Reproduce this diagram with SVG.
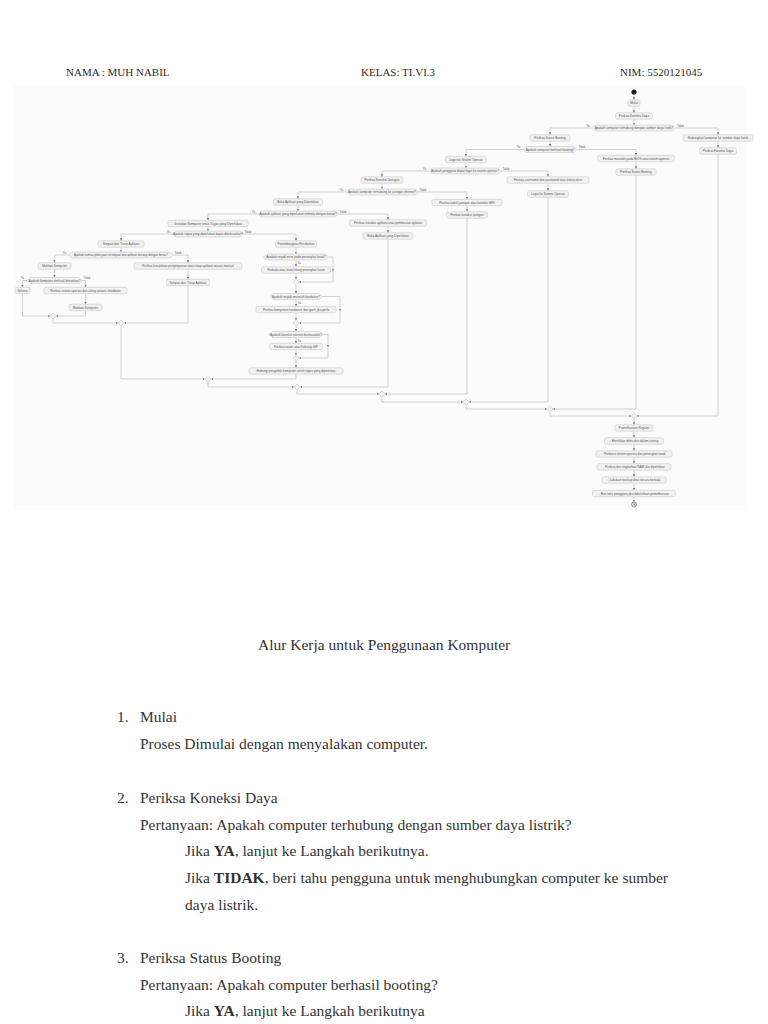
<svg xmlns="http://www.w3.org/2000/svg" width="768" height="1024" viewBox="0 0 768 1024">
<style>
.pg{font-family:"Liberation Serif","Times New Roman",serif;fill:#2b2b2b}
.hd{font-size:11px}
.bd{font-size:15.5px;fill:#333}
.b{fill:#f1f1f1;stroke:#b3b3b3;stroke-width:0.4}
.t{font-family:"Liberation Sans",Arial,sans-serif;font-size:3.1px;fill:#555;text-anchor:middle}
.l{font-family:"Liberation Sans",Arial,sans-serif;font-size:2.9px;fill:#555}
.c{fill:none;stroke:#9e9e9e;stroke-width:0.45;marker-end:url(#a)}
</style>
<defs>
<marker id="a" viewBox="0 0 6 6" refX="6" refY="3" markerWidth="2.4" markerHeight="2.4" orient="auto" markerUnits="userSpaceOnUse"><path d="M0,0 L6,3 L0,6 z" fill="#7a7a7a"/></marker>
</defs>
<rect width="768" height="1024" fill="#ffffff"/>
<g id="header" class="pg hd">
<text x="66" y="76">NAMA : MUH NABIL</text>
<text x="361" y="76">KELAS: TI.VI.3</text>
<text x="620" y="76">NIM: 5520121045</text>
</g>
<rect x="14" y="85" width="731" height="425" fill="#fbfbfb"/>
<g id="connectors">
<path class="c" d="M634,94.6 V99.75"/>
<path class="c" d="M634,106.25 V112.75"/>
<path class="c" d="M634,119.25 V125"/>
<path class="c" d="M592.5,128 H550 V134.75"/>
<path class="c" d="M675.5,128 H718 V134.75"/>
<path class="c" d="M550,141.25 V146.5"/>
<path class="c" d="M718,141.25 V147.75"/>
<path class="c" d="M523,149.5 H466 V156.25"/>
<path class="c" d="M577,149.5 H636 V155.25"/>
<path class="c" d="M636,161.75 V168.75"/>
<path class="c" d="M466,162.75 V168"/>
<path class="c" d="M429,171 H382 V176.75"/>
<path class="c" d="M501,171 H548 V176.75"/>
<path class="c" d="M548,183.25 V190.75"/>
<path class="c" d="M382,183.25 V189"/>
<path class="c" d="M346,192 H298 V198.75"/>
<path class="c" d="M418,192 H467 V199.25"/>
<path class="c" d="M467,205.75 V211.75"/>
<path class="c" d="M298,205.25 V211"/>
<path class="c" d="M258,214 H208 V220.25"/>
<path class="c" d="M338,214 H388 V219.75"/>
<path class="c" d="M388,226.25 V232.75"/>
<path class="c" d="M208,226.75 V231"/>
<path class="c" d="M173,234 H121 V240.75"/>
<path class="c" d="M243,234 H296 V240.75"/>
<path class="c" d="M121,247.25 V252"/>
<path class="c" d="M69,255 H54.5 V262.75"/>
<path class="c" d="M173,255 H188 V262.75"/>
<path class="c" d="M188,269.25 V279.25"/>
<path class="c" d="M54.5,269.25 V277.5"/>
<path class="c" d="M27,280.5 H22.5 V287.25"/>
<path class="c" d="M82,280.5 H85.5 V287.25"/>
<path class="c" d="M85.5,293.75 V304.25"/>
<path class="c" d="M22.5,293.75 V316 H50"/>
<path class="c" d="M85.5,310.75 V316 H56"/>
<path class="c" d="M53,319 V323 H118"/>
<path class="c" d="M188,285.75 V323 H124"/>
<path class="c" d="M296,247.25 V254"/>
<path class="c" d="M296,260 V266.75"/>
<path class="c" d="M328.5,257 H333 V271"/>
<path class="c" d="M333,270 V282 H299"/>
<path class="c" d="M296,273.25 V279"/>
<path class="c" d="M296,285 V293.5"/>
<path class="c" d="M296,299.5 V306.25"/>
<path class="c" d="M322,296.5 H340 V311"/>
<path class="c" d="M340,310 V323 H299"/>
<path class="c" d="M296,312.75 V320"/>
<path class="c" d="M296,326 V331.5"/>
<path class="c" d="M296,337.5 V343.25"/>
<path class="c" d="M323,334.5 H328 V347"/>
<path class="c" d="M328,346 V358 H299"/>
<path class="c" d="M296,349.75 V355"/>
<path class="c" d="M296,361 V367.75"/>
<path class="c" d="M121,326 V379 H205"/>
<path class="c" d="M296,374.25 V379 H211"/>
<path class="c" d="M208,382 V387 H294"/>
<path class="c" d="M388,239.25 V387 H300"/>
<path class="c" d="M297,390 V394 H379"/>
<path class="c" d="M467,218.25 V394 H385"/>
<path class="c" d="M382,397 V402 H463"/>
<path class="c" d="M548,197.25 V402 H469"/>
<path class="c" d="M466,405 V409 H547"/>
<path class="c" d="M636,175.25 V409 H553"/>
<path class="c" d="M550,412 V416 H631"/>
<path class="c" d="M718,154.25 V416 H637"/>
<path class="c" d="M634,419 V424.75"/>
<path class="c" d="M634,431.25 V437.75"/>
<path class="c" d="M634,444.25 V450.75"/>
<path class="c" d="M634,457.25 V463.75"/>
<path class="c" d="M634,470.25 V476.75"/>
<path class="c" d="M634,483.25 V490.25"/>
<path class="c" d="M634,496.75 V502"/>
</g>
<g id="labels">
<text class="l" x="589.5" y="126.8" text-anchor="end">Ya</text>
<text class="l" x="677" y="126.8">Tidak</text>
<text class="l" x="520" y="148.3" text-anchor="end">Ya</text>
<text class="l" x="578.5" y="148.3">Tidak</text>
<text class="l" x="426" y="169.8" text-anchor="end">Ya</text>
<text class="l" x="502.5" y="169.8">Tidak</text>
<text class="l" x="343" y="190.8" text-anchor="end">Ya</text>
<text class="l" x="419.5" y="190.8">Tidak</text>
<text class="l" x="255" y="212.8" text-anchor="end">Ya</text>
<text class="l" x="339.5" y="212.8">Tidak</text>
<text class="l" x="170" y="232.8" text-anchor="end">Ya</text>
<text class="l" x="244.5" y="232.8">Tidak</text>
<text class="l" x="66" y="253.8" text-anchor="end">Ya</text>
<text class="l" x="174.5" y="253.8">Tidak</text>
<text class="l" x="24" y="279.3" text-anchor="end">Ya</text>
<text class="l" x="83.5" y="279.3">Tidak</text>
<text class="l" x="297.5" y="264">Ya</text>
<text class="l" x="297.5" y="303.5">Ya</text>
<text class="l" x="297.5" y="341.5">Ya</text>
</g>
<g id="start"><circle cx="634" cy="92" r="2.6" fill="#222"/></g>
<g id="n_mulai"><rect class="b" x="628" y="99.75" width="12" height="6.5" rx="2"/><text class="t" x="634" y="104.1">Mulai</text></g>
<g id="n_koneksi1"><rect class="b" x="615.5" y="112.75" width="37" height="6.5" rx="2"/><text class="t" x="634" y="117.1">Periksa Koneksi Daya</text></g>
<g id="d_daya"><polygon class="b" points="592.5,128 595.5,125 672.5,125 675.5,128 672.5,131 595.5,131"/><text class="t" x="634" y="129.1">Apakah computer terhubung dengan sumber daya listrik?</text></g>
<g id="n_status1"><rect class="b" x="530" y="134.75" width="40" height="6.5" rx="2"/><text class="t" x="550" y="139.1">Periksa Status Booting</text></g>
<g id="n_hubungkan"><rect class="b" x="683" y="134.75" width="70" height="6.5" rx="2"/><text class="t" x="718" y="139.1">Hubungkan komputer ke sumber daya listrik</text></g>
<g id="n_koneksi2"><rect class="b" x="699.5" y="147.75" width="37" height="6.5" rx="2"/><text class="t" x="718" y="152.1">Periksa Koneksi Daya</text></g>
<g id="d_boot"><polygon class="b" points="523,149.5 526,146.5 574,146.5 577,149.5 574,152.5 526,152.5"/><text class="t" x="550" y="150.6">Apakah computer berhasil booting?</text></g>
<g id="n_bios"><rect class="b" x="597.5" y="155.25" width="77" height="6.5" rx="2"/><text class="t" x="636" y="159.6">Periksa masalah pada BIOS atau sistem operasi</text></g>
<g id="n_status2"><rect class="b" x="616" y="168.75" width="40" height="6.5" rx="2"/><text class="t" x="636" y="173.1">Periksa Status Booting</text></g>
<g id="n_login1"><rect class="b" x="445.5" y="156.25" width="41" height="6.5" rx="2"/><text class="t" x="466" y="160.6">Login ke Sistem Operasi</text></g>
<g id="d_login"><polygon class="b" points="429,171 432,168 498,168 501,171 498,174 432,174"/><text class="t" x="465" y="172.1">Apakah pengguna dapat login ke sistem operasi?</text></g>
<g id="n_jaringan"><rect class="b" x="361" y="176.75" width="42" height="6.5" rx="2"/><text class="t" x="382" y="181.1">Periksa Koneksi Jaringan</text></g>
<g id="n_username"><rect class="b" x="507" y="176.75" width="82" height="6.5" rx="2"/><text class="t" x="548" y="181.1">Periksa username dan password atau status akun</text></g>
<g id="n_login2"><rect class="b" x="527.5" y="190.75" width="41" height="6.5" rx="2"/><text class="t" x="548" y="195.1">Login ke Sistem Operasi</text></g>
<g id="d_net"><polygon class="b" points="346,192 349,189 415,189 418,192 415,195 349,195"/><text class="t" x="382" y="193.1">Apakah komputer terhubung ke jaringan internet?</text></g>
<g id="n_kabel"><rect class="b" x="432" y="199.25" width="70" height="6.5" rx="2"/><text class="t" x="467" y="203.6">Periksa kabel jaringan atau koneksi WiFi</text></g>
<g id="n_cekjar"><rect class="b" x="446.5" y="211.75" width="41" height="6.5" rx="2"/><text class="t" x="467" y="216.1">Periksa koneksi jaringan</text></g>
<g id="n_buka1"><rect class="b" x="273.5" y="198.75" width="49" height="6.5" rx="2"/><text class="t" x="298" y="203.1">Buka Aplikasi yang Diperlukan</text></g>
<g id="d_app"><polygon class="b" points="258,214 261,211 335,211 338,214 335,217 261,217"/><text class="t" x="298" y="215.1">Apakah aplikasi yang diperlukan terbuka dengan benar?</text></g>
<g id="n_instal"><rect class="b" x="349.5" y="219.75" width="77" height="6.5" rx="2"/><text class="t" x="388" y="224.1">Periksa instalasi aplikasi atau pembaruan aplikasi</text></g>
<g id="n_buka2"><rect class="b" x="363" y="232.75" width="50" height="6.5" rx="2"/><text class="t" x="388" y="237.1">Buka Aplikasi yang Diperlukan</text></g>
<g id="n_gunakan"><rect class="b" x="168" y="220.25" width="80" height="6.5" rx="2"/><text class="t" x="208" y="224.6">Gunakan Komputer untuk Tugas yang Diperlukan</text></g>
<g id="d_tugas"><polygon class="b" points="173,234 176,231 240,231 243,234 240,237 176,237"/><text class="t" x="208" y="235.1">Apakah tugas yang diperlukan dapat diselesaikan?</text></g>
<g id="n_simpan1"><rect class="b" x="98" y="240.75" width="46" height="6.5" rx="2"/><text class="t" x="121" y="245.1">Simpan dan Tutup Aplikasi</text></g>
<g id="d_simpan"><polygon class="b" points="69,255 72,252 170,252 173,255 170,258 72,258"/><text class="t" x="121" y="256.1" textLength="94" lengthAdjust="spacingAndGlyphs">Apakah semua pekerjaan tersimpan dan aplikasi tertutup dengan benar?</text></g>
<g id="n_matikan1"><rect class="b" x="38" y="262.75" width="33" height="6.5" rx="2"/><text class="t" x="54.5" y="267.1">Matikan Komputer</text></g>
<g id="n_manual"><rect class="b" x="134" y="262.75" width="108" height="6.5" rx="2"/><text class="t" x="188" y="267.1">Periksa kesalahan penyimpanan atau tutup aplikasi secara manual</text></g>
<g id="n_simpan2"><rect class="b" x="166.5" y="279.25" width="43" height="6.5" rx="2"/><text class="t" x="188" y="283.6">Simpan dan Tutup Aplikasi</text></g>
<g id="d_mati"><polygon class="b" points="27,280.5 30,277.5 79,277.5 82,280.5 79,283.5 30,283.5"/><text class="t" x="54.5" y="281.6">Apakah komputer berhasil dimatikan?</text></g>
<g id="n_selesai"><rect class="b" x="15" y="287.25" width="15" height="6.5" rx="2"/><text class="t" x="22.5" y="291.6">Selesai</text></g>
<g id="n_shutdown"><rect class="b" x="44" y="287.25" width="83" height="6.5" rx="2"/><text class="t" x="85.5" y="291.6">Periksa sistem operasi dan ulangi proses shutdown</text></g>
<g id="n_matikan2"><rect class="b" x="69" y="304.25" width="33" height="6.5" rx="2"/><text class="t" x="85.5" y="308.6">Matikan Komputer</text></g>
<g id="n_perubahan"><rect class="b" x="275.5" y="240.75" width="41" height="6.5" rx="2"/><text class="t" x="296" y="245.1">Pertimbangkan Perubahan</text></g>
<g id="d_err"><polygon class="b" points="263.5,257 266.5,254 325.5,254 328.5,257 325.5,260 266.5,260"/><text class="t" x="296" y="258.1">Apakah terjadi error pada perangkat lunak?</text></g>
<g id="n_perbaiki"><rect class="b" x="261.5" y="266.75" width="69" height="6.5" rx="2"/><text class="t" x="296" y="271.1">Perbaiki atau instal ulang perangkat lunak</text></g>
<g id="d_hw"><polygon class="b" points="270,296.5 273,293.5 319,293.5 322,296.5 319,299.5 273,299.5"/><text class="t" x="296" y="297.6">Apakah terjadi masalah hardware?</text></g>
<g id="n_komponen"><rect class="b" x="256" y="306.25" width="80" height="6.5" rx="2"/><text class="t" x="296" y="310.6">Periksa komponen hardware dan ganti jika perlu</text></g>
<g id="d_inet"><polygon class="b" points="269,334.5 272,331.5 320,331.5 323,334.5 320,337.5 272,337.5"/><text class="t" x="296" y="335.6">Apakah koneksi internet bermasalah?</text></g>
<g id="n_router"><rect class="b" x="269.5" y="343.25" width="53" height="6.5" rx="2"/><text class="t" x="296" y="347.6">Periksa router atau hubungi ISP</text></g>
<g id="n_hubungi"><rect class="b" x="249" y="367.75" width="94" height="6.5" rx="2"/><text class="t" x="296" y="372.1">Hubungi pengelola komputer untuk tugas yang diperlukan</text></g>
<g id="merges">
<polygon class="b" points="53,313 56,316 53,319 50,316"/>
<polygon class="b" points="121,320 124,323 121,326 118,323"/>
<polygon class="b" points="296,279 299,282 296,285 293,282"/>
<polygon class="b" points="296,320 299,323 296,326 293,323"/>
<polygon class="b" points="296,355 299,358 296,361 293,358"/>
<polygon class="b" points="208,376 211,379 208,382 205,379"/>
<polygon class="b" points="297,384 300,387 297,390 294,387"/>
<polygon class="b" points="382,391 385,394 382,397 379,394"/>
<polygon class="b" points="466,399 469,402 466,405 463,402"/>
<polygon class="b" points="550,406 553,409 550,412 547,409"/>
<polygon class="b" points="634,413 637,416 634,419 631,416"/>
</g>
<g id="n_pem"><rect class="b" x="615" y="424.75" width="38" height="6.5" rx="2"/><text class="t" x="634" y="429.1">Pemeliharaan Reguler</text></g>
<g id="n_debu"><rect class="b" x="604.5" y="437.75" width="59" height="6.5" rx="2"/><text class="t" x="634" y="442.1">- Bersihkan debu dari dalam casing</text></g>
<g id="n_perbarui"><rect class="b" x="596" y="450.75" width="76" height="6.5" rx="2"/><text class="t" x="634" y="455.1">- Perbarui sistem operasi dan perangkat lunak</text></g>
<g id="n_ram"><rect class="b" x="597" y="463.75" width="74" height="6.5" rx="2"/><text class="t" x="634" y="468.1">- Periksa dan tingkatkan RAM jika diperlukan</text></g>
<g id="n_backup"><rect class="b" x="602" y="476.75" width="64" height="6.5" rx="2"/><text class="t" x="634" y="481.1">- Lakukan backup data secara berkala</text></g>
<g id="n_beritahu"><rect class="b" x="592.5" y="490.25" width="83" height="6.5" rx="2"/><text class="t" x="634" y="494.6">- Beri tahu pengguna jika dibutuhkan pemeliharaan</text></g>
<g id="end"><circle cx="634" cy="504.5" r="2.5" fill="#fff" stroke="#333" stroke-width="0.5"/><path d="M632.3,502.8 L635.7,506.2 M635.7,502.8 L632.3,506.2" stroke="#333" stroke-width="0.5"/></g>
<g id="body" class="pg bd">
<text x="258" y="650">Alur Kerja untuk Penggunaan Komputer</text>
<text x="117" y="722">1.</text><text x="140" y="722">Mulai</text>
<text x="140" y="749">Proses Dimulai dengan menyalakan computer.</text>
<text x="117" y="803">2.</text><text x="140" y="803">Periksa Koneksi Daya</text>
<text x="140" y="830">Pertanyaan: Apakah computer terhubung dengan sumber daya listrik?</text>
<text x="185" y="856">Jika <tspan font-weight="bold">YA</tspan>, lanjut ke Langkah berikutnya.</text>
<text x="185" y="883">Jika <tspan font-weight="bold">TIDAK</tspan>, beri tahu pengguna untuk menghubungkan computer ke sumber</text>
<text x="185" y="910">daya listrik.</text>
<text x="117" y="963">3.</text><text x="140" y="963">Periksa Status Booting</text>
<text x="140" y="990">Pertanyaan: Apakah computer berhasil booting?</text>
<text x="185" y="1016">Jika <tspan font-weight="bold">YA</tspan>, lanjut ke Langkah berikutnya</text>
</g>
</svg>
